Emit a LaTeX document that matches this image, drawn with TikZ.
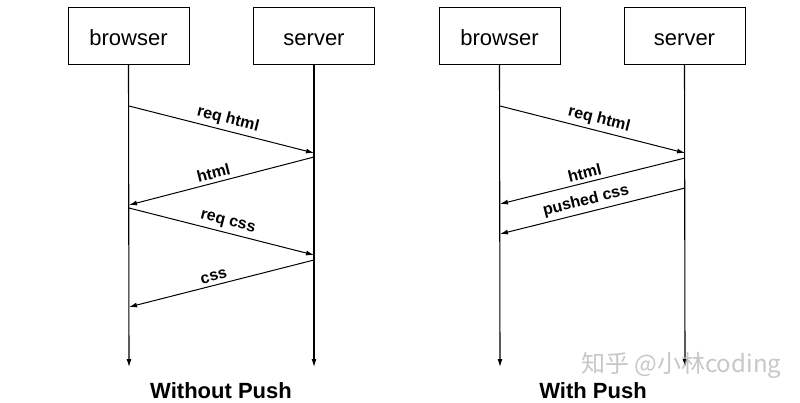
\documentclass[tikz,border=0pt]{standalone}
\usepackage{fontspec}
\setmainfont{Liberation Sans}
\newfontfamily\cjkfont{Noto Sans CJK SC}
\usetikzlibrary{arrows.meta}

\tikzset{
	actor/.style={draw, line width=1pt, minimum width=121pt, minimum height=57pt, inner sep=0pt, text height=20pt, text depth=1pt, font=\fontsize{22}{26}\selectfont},
	lifeline/.style={line width=1.1pt, -{Latex[length=8pt,width=5pt]}},
	msg/.style={line width=1pt, -{Latex[length=8pt,width=5pt]}},
	msglabel/.style={sloped, above, inner sep=3.5pt, font=\bfseries\fontsize{16}{19}\selectfont},
	caption/.style={anchor=base, font=\bfseries\fontsize{22}{26}\selectfont},
}

\begin{document}
\begin{tikzpicture}[x=1pt, y=-1pt]
	\useasboundingbox (0,0) rectangle (800,402);

	% Without push
	\node[actor] (browserA) at (128.5,35.5) {browser};
	\node[actor] (serverA) at (314,35.5) {server};
	\coordinate (browserAend) at (129,367);
	\coordinate (serverAend) at (314,367);
	\draw[lifeline] (browserA.south) -- (browserAend);
	\draw[lifeline] (serverA.south) -- (serverAend);

	\coordinate (a1) at (129,106);
	\coordinate (a2) at (314,153);
	\coordinate (a3) at (314,157);
	\coordinate (a4) at (129,205);
	\coordinate (a5) at (129,208);
	\coordinate (a6) at (314,255);
	\coordinate (a7) at (314,260);
	\coordinate (a8) at (129,307);
	\draw[msg] (a1) -- node[msglabel, pos=0.52] {req html} (a2);
	\draw[msg] (a3) -- node[msglabel, pos=0.53] {html} (a4);
	\draw[msg] (a5) -- node[msglabel, pos=0.52] {req css} (a6);
	\draw[msg] (a7) -- node[msglabel, pos=0.53] {css} (a8);

	\node[caption] (titleA) at (221,398) {Without Push};

	% With push
	\node[actor] (browserB) at (499.5,35.5) {browser};
	\node[actor] (serverB) at (684.5,35.5) {server};
	\coordinate (browserBend) at (500,367);
	\coordinate (serverBend) at (685,367);
	\draw[lifeline] (browserB.south) -- (browserBend);
	\draw[lifeline] (serverB.south) -- (serverBend);

	\coordinate (b1) at (500,106);
	\coordinate (b2) at (685,153);
	\coordinate (b3) at (685,158);
	\coordinate (b4) at (500,204);
	\coordinate (b5) at (685,188);
	\coordinate (b6) at (500,234);
	\draw[msg] (b1) -- node[msglabel, pos=0.52] {req html} (b2);
	\draw[msg] (b3) -- node[msglabel, pos=0.53] {html} (b4);
	\draw[msg] (b5) -- node[msglabel, pos=0.52] {pushed css} (b6);

	\node[caption] (titleB) at (593,398) {With Push};

	% watermark
	\node[anchor=base west, inner sep=0pt, text=gray!55, opacity=0.8, font=\cjkfont\fontsize{24}{28}\selectfont] (mark) at (581,372) {知乎 @小林coding};
\end{tikzpicture}
\end{document}
